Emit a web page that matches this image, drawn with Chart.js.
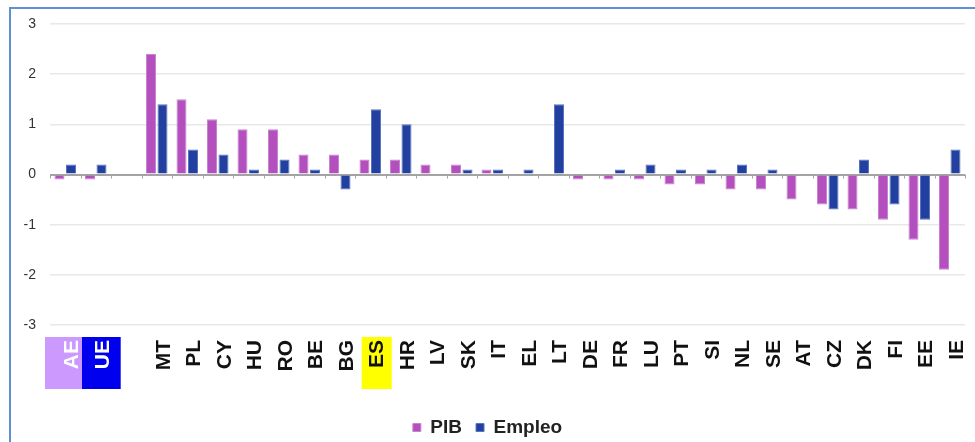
<!DOCTYPE html>
<html>
<head>
<meta charset="utf-8">
<script src="https://cdn.jsdelivr.net/npm/chart.js@4/dist/chart.umd.min.js"></script>
<style>
  html, body { margin: 0; padding: 0; background: #fff; }
  #frame { position: relative; width: 975px; height: 442px; overflow: hidden; background: #fff; }
  #edge { position: absolute; left: 9px; top: 7px; width: 1200px; height: 1200px;
          border-top: 2px solid #5f8fd5; border-left: 2px solid #5f8fd5; box-sizing: border-box; }
  #chart { position: absolute; left: 0; top: 0; }
</style>
</head>
<body>
<div id="frame">
  <div id="edge"></div>
  <canvas id="chart" width="975" height="451"></canvas>
</div>
<script>
// Country codes along the x axis (empty slot separates the aggregates)
const categories = ['AE', 'UE', '', 'MT', 'PL', 'CY', 'HU', 'RO', 'BE', 'BG', 'ES', 'HR', 'LV', 'SK',
  'IT', 'EL', 'LT', 'DE', 'FR', 'LU', 'PT', 'SI', 'NL', 'SE', 'AT', 'CZ', 'DK', 'FI', 'EE', 'IE'];

// Change in GDP (PIB), percentage points
const pib = [-0.1, -0.1, null, 2.4, 1.5, 1.1, 0.9, 0.9, 0.4, 0.4, 0.3, 0.3, 0.2, 0.2,
  0.1, 0, 0, -0.1, -0.1, -0.1, -0.2, -0.2, -0.3, -0.3, -0.5, -0.6, -0.7, -0.9, -1.3, -1.9];

// Change in employment (Empleo), percentage points
const empleo = [0.2, 0.2, null, 1.4, 0.5, 0.4, 0.1, 0.3, 0.1, -0.3, 1.3, 1.0, 0, 0.1,
  0.1, 0.1, 1.4, 0, 0.1, 0.2, 0.1, 0.1, 0.2, 0.1, 0, -0.7, 0.3, -0.6, -0.9, 0.5];

// Value axis ticks
const yTicks = [-3, -2, -1, 0, 1, 2, 3];

// Labels drawn on a coloured background
const highlighted = ['AE', 'UE', 'ES'];

const FONT = "'Liberation Sans', Arial, Helvetica, sans-serif";

// Coloured label backgrounds and the small boundary ticks on the zero line
const axisDecor = {
  id: 'axisDecor',
  beforeDraw(chart, args, opts) {
    const x = chart.scales.x, area = chart.chartArea, ctx = chart.ctx;
    const band = x.getPixelForValue(1) - x.getPixelForValue(0);
    ctx.save();
    opts.boxes.forEach(b => {
      const c = x.getPixelForValue(categories.indexOf(b.label));
      const left = c - band / 2 + b.dl;
      const right = c + band / 2 + b.dr;
      ctx.fillStyle = b.color;
      ctx.fillRect(left, area.bottom + opts.top, right - left, opts.height);
    });
    ctx.restore();
  },
  beforeDatasetsDraw(chart, args, opts) {
    const x = chart.scales.x, y = chart.scales.y, ctx = chart.ctx;
    const band = x.getPixelForValue(1) - x.getPixelForValue(0);
    const y0 = y.getPixelForValue(0);
    ctx.save();
    ctx.strokeStyle = opts.tickColor;
    ctx.lineWidth = 1;
    ctx.beginPath();
    for (let i = 0; i <= categories.length; i++) {
      const px = Math.round(x.getPixelForValue(i) - band / 2) + 0.5;
      ctx.moveTo(px, y0);
      ctx.lineTo(px, y0 + opts.tickLength);
    }
    ctx.stroke();
    ctx.restore();
  }
};

new Chart(document.getElementById('chart'), {
  type: 'bar',
  data: {
    labels: categories,
    datasets: [
      { label: 'PIB', data: pib, backgroundColor: '#b450be', borderColor: '#c883d0', borderWidth: 1 },
      { label: 'Empleo', data: empleo, backgroundColor: '#21409f', borderColor: '#5a73bf', borderWidth: 1 }
    ]
  },
  options: {
    responsive: false,
    animation: false,
    devicePixelRatio: 1,
    categoryPercentage: 0.754,
    barPercentage: 0.87,
    layout: { padding: { left: 10, right: 10, top: 24, bottom: 4 } },
    scales: {
      x: {
        grid: { display: false, drawTicks: false },
        border: { display: false },
        ticks: {
          autoSkip: false,
          minRotation: 90,
          maxRotation: 90,
          padding: 15,
          labelOffset: 7,
          color: ctx => (ctx.tick && (ctx.tick.label === 'AE' || ctx.tick.label === 'UE')) ? '#ffffff' : '#111111',
          font: { family: FONT, size: 21, weight: 'bold' }
        },
        afterFit(scale) {
          scale.height = 79;
          scale.paddingLeft = 0;
          scale.paddingRight = 0;
        }
      },
      y: {
        min: -3,
        max: 3,
        afterBuildTicks(scale) { scale.ticks = yTicks.map(v => ({ value: v })); },
        grid: {
          drawTicks: false,
          color: ctx => ctx.tick && ctx.tick.value === 0 ? '#a3a3a3' : '#e8e8e8',
          lineWidth: ctx => ctx.tick && ctx.tick.value === 0 ? 2 : 1.5
        },
        border: { display: false },
        ticks: {
          padding: 14,
          color: '#333333',
          font: { family: FONT, size: 14 }
        },
        afterFit(scale) { scale.width = 40; }
      }
    },
    plugins: {
      tooltip: { enabled: false },
      legend: {
        position: 'bottom',
        labels: {
          boxWidth: 8,
          boxHeight: 8,
          padding: 14,
          color: '#222222',
          font: { family: FONT, size: 19, weight: 'bold' }
        }
      },
      axisDecor: {
        tickColor: '#a3a3a3',
        tickLength: 4,
        top: 12,
        height: 52,
        boxes: [
          { label: highlighted[0], color: '#cc99ff', dl: -5, dr: 1.5 },
          { label: highlighted[1], color: '#0000ee', dl: 1.5, dr: 9.7 },
          { label: highlighted[2], color: '#ffff00', dl: 6.7, dr: 6.2 }
        ]
      }
    }
  },
  plugins: [axisDecor]
});
</script>
</body>
</html>
